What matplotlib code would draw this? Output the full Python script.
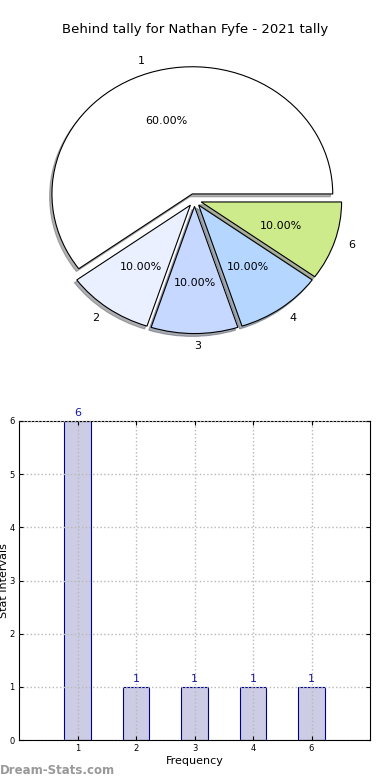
import matplotlib
matplotlib.use("Agg")
import matplotlib.pyplot as plt

TITLE = "Behind tally for Nathan Fyfe - 2021 tally"
categories = ["1", "2", "3", "4", "6"]
shares = [60, 10, 10, 10, 10]
counts = [6, 1, 1, 1, 1]
slice_colors = ["#ffffff", "#eaf0ff", "#c6d8ff", "#b5d7ff", "#cdeb8b"]

BAR_FACE, BAR_EDGE, LABEL_BLUE = "#ccccE5", "#00008b", "#1a1aa0"

fig = plt.figure(figsize=(3.9, 7.8), dpi=100)

# pie (not equal aspect, like the original)
axp = fig.add_axes([19 / 390, 1 - 359 / 780, 351 / 390, 318 / 780])
wedges, texts, autotexts = axp.pie(
    shares, labels=categories, colors=slice_colors, explode=[0.05] * len(shares),
    autopct="%.2f%%", shadow=dict(ox=-0.012, oy=-0.016, shade=0.6), startangle=0,
    wedgeprops=dict(edgecolor="black", linewidth=0.8),
    textprops=dict(fontsize=8))
axp.set_aspect("auto")
axp.set_xlim(-1.25, 1.25)
axp.set_ylim(-1.25, 1.25)
fig.text(0.5, 1 - 30 / 780, TITLE, ha="center", va="center", fontsize=9.5)

# bars
axb = fig.add_axes([19 / 390, 1 - 740 / 780, 351 / 390, 319 / 780])
x = list(range(len(categories)))
axb.bar(x, counts, width=0.45, color=BAR_FACE, edgecolor=BAR_EDGE, linewidth=0.8, zorder=1)
for xi, c in zip(x, counts):
    axb.text(xi, c + 0.06, str(c), ha="center", va="bottom", fontsize=8, color=LABEL_BLUE)
axb.set_xlim(-1, len(categories))
axb.set_ylim(0, 6)
axb.set_xticks(x)
axb.set_xticklabels(categories)
axb.set_yticks(range(7))
axb.tick_params(labelsize=6, direction="in", top=True, right=True, length=3, pad=3)
axb.grid(True, linestyle=":", color="#b8b8b8", linewidth=1.0, zorder=2)
axb.set_axisbelow(False)
axb.set_xlabel("Frequency", fontsize=8, labelpad=2)
axb.set_ylabel("Stat Intervals", fontsize=8)
axb.yaxis.set_label_coords(-0.028, 0.5)

fig.text(0.0, 1 - 771 / 780, "Dream-Stats.com", ha="left", va="center",
         fontsize=8.5, color="#999999", fontweight="bold")

fig.savefig("out.png", dpi=100, facecolor="white")
